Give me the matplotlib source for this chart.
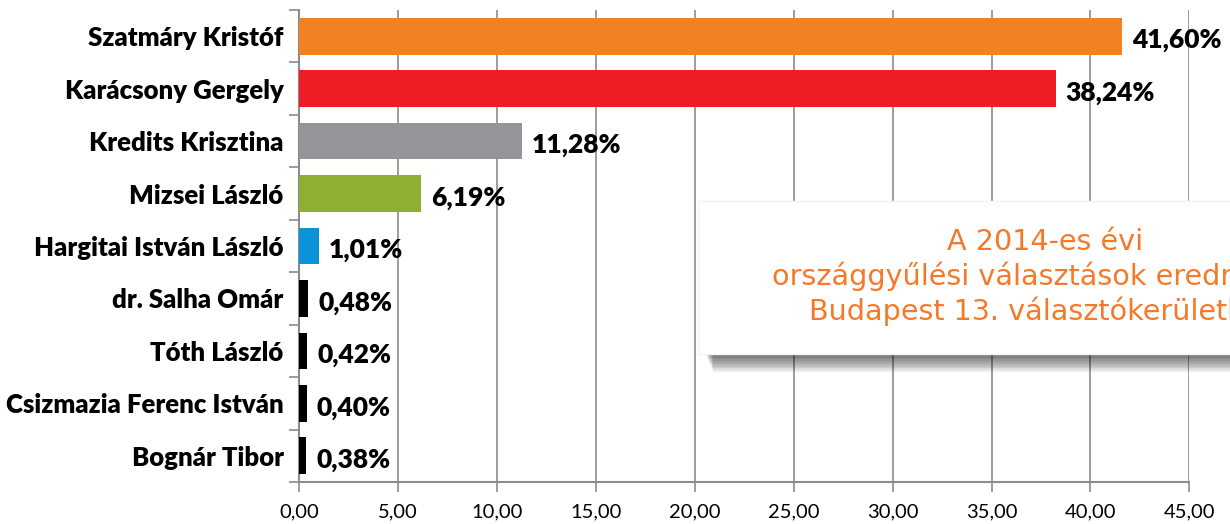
import numpy as np
import matplotlib.pyplot as plt
from matplotlib.patches import Rectangle
from matplotlib.ticker import FuncFormatter

# Candidates and results (percent), top to bottom
candidates = ['Szatmáry Kristóf', 'Karácsony Gergely', 'Kredits Krisztina', 'Mizsei László',
              'Hargitai István László', 'dr. Salha Omár', 'Tóth László',
              'Csizmazia Ferenc István', 'Bognár Tibor']
values = [41.60, 38.24, 11.28, 6.19, 1.01, 0.48, 0.42, 0.40, 0.38]
bar_colors = ['#F28124', '#EE1D25', '#939598', '#8DB032', '#0A93D8',
              '#000000', '#000000', '#000000', '#000000']
x_ticks = [0, 5, 10, 15, 20, 25, 30, 35, 40, 45]
title_lines = ['A 2014-es évi', 'országgyűlési választások eredménye', 'Budapest 13. választókerületben']

label_font = 'Lato'
grid_col = '#8C8C8C'

fig = plt.figure(figsize=(12.3, 5.24), dpi=100)
ax = fig.add_axes([0.243, 0.080, 0.724, 0.901])

y = np.arange(len(candidates))
ax.barh(y, values, height=0.7, color=bar_colors, zorder=3)

# value labels
for yi, v in zip(y, values):
    ax.text(v + 0.5, yi + 0.08, f'{v:.2f}'.replace('.', ',') + '%', va='center', ha='left',
            fontsize=19, fontweight='heavy', family=label_font, zorder=4)

ax.set_ylim(len(candidates) - 0.5, -0.5)
ax.set_xlim(0, 45)
ax.set_yticks(y)
ax.set_yticklabels(candidates, fontsize=18.5, fontweight='heavy', family=label_font)
# category boundary ticks on the y axis
ax.set_yticks(np.arange(-0.5, len(candidates), 1.0), minor=True)
ax.tick_params(axis='y', which='major', length=0, pad=11)
ax.tick_params(axis='y', which='minor', length=7, width=1.2, color=grid_col, direction='out')

ax.set_xticks(x_ticks)
ax.xaxis.set_major_formatter(FuncFormatter(lambda v, p: f'{v:.2f}'.replace('.', ',')))
ax.tick_params(axis='x', length=7, width=1.2, color=grid_col, direction='out', pad=8, labelsize=14.5)
for lab in ax.get_xticklabels():
    lab.set_family(label_font)

ax.grid(axis='x', color=grid_col, linewidth=1.2, zorder=0)
for s in ['top', 'right']:
    ax.spines[s].set_visible(False)
for s in ['left', 'bottom']:
    ax.spines[s].set_color(grid_col)
    ax.spines[s].set_linewidth(1.5)

# annotation box with soft shadow (extends past the figure edge)
bx, by, bw, bh = 698 / 1230, 1 - 354 / 524, 0.5, 153 / 524
for i in range(10):
    off = (i + 1) * 1.8 / 524
    fig.add_artist(Rectangle((bx + 8 / 1230 + i * 0.8 / 1230, by - off), bw, bh, transform=fig.transFigure,
                             facecolor='black', alpha=0.07, edgecolor='none', zorder=5))
fig.add_artist(Rectangle((bx, by), bw, bh, transform=fig.transFigure,
                         facecolor='white', edgecolor='#F4F4F4', linewidth=1, zorder=6))
fig.text(1045 / 1230, 1 - 277 / 524, '\n'.join(title_lines), ha='center', va='center',
         color='#F47A2A', fontsize=20.6, family='DejaVu Sans', linespacing=1.25, zorder=7)

fig.savefig('out.png', dpi=100)
